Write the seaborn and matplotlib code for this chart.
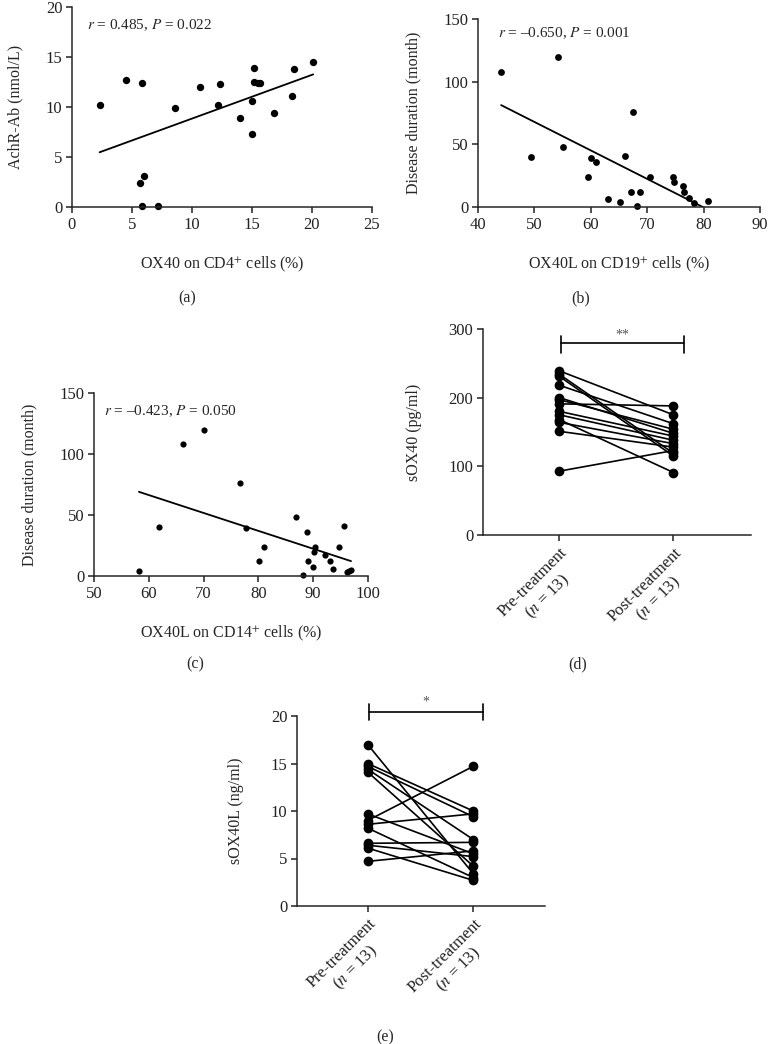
import numpy as np
import pandas as pd
import seaborn as sns
import matplotlib.pyplot as plt

# ---- data ----
# (a) OX40 on CD4+ vs AchR-Ab
a_x = [2.3, 4.5, 5.8, 5.7, 6.0, 5.8, 7.2, 8.6, 10.7, 12.2, 12.3, 14.0, 15.0, 15.0,
       15.2, 15.2, 15.5, 15.7, 16.8, 18.3, 18.5, 20.1]
a_y = [10.2, 12.7, 12.4, 2.4, 3.1, 0.1, 0.1, 9.9, 12.0, 10.2, 12.3, 8.9, 10.6, 7.3,
       13.9, 12.5, 12.4, 12.4, 9.4, 11.1, 13.8, 14.5]

# (b) OX40L on CD19+ vs disease duration
b_x = [44.1, 49.4, 54.2, 55.0, 59.5, 60.1, 60.9, 63.0, 65.2, 66.1, 67.1, 67.4, 68.2,
       68.8, 70.5, 74.6, 74.7, 76.4, 76.5, 77.4, 78.3, 80.7]
b_y = [108, 40, 120, 48, 24, 39, 36, 6, 4, 41, 12, 76, 1, 12, 24, 24, 20, 17, 12,
       7, 3, 5]

# (c) OX40L on CD14+ vs disease duration
c_x = [58.2, 61.9, 66.2, 70.1, 76.6, 77.7, 80.1, 81.1, 86.9, 88.9, 88.2, 89.1, 90.0,
       90.1, 90.4, 92.2, 93.1, 93.7, 94.7, 95.6, 96.2, 96.5, 96.9]
c_y = [4, 40, 108, 120, 76, 39, 12, 24, 48, 36, 1, 12, 7, 20, 24, 17, 12, 6, 24,
       41, 3, 4, 5]

# (d) sOX40 paired pre/post
d_pre = [239, 234, 231, 218, 200, 197, 191, 180, 175, 168, 164, 151, 93]
d_post = [175, 119, 115, 162, 148, 154, 188, 144, 138, 91, 133, 128, 123]

# (e) sOX40L paired pre/post
e_pre = [17.0, 15.0, 14.7, 14.4, 14.1, 9.7, 9.0, 8.6, 8.2, 6.6, 6.4, 6.1, 4.7]
e_post = [3.4, 10.0, 9.4, 7.0, 4.2, 5.5, 14.7, 9.7, 3.0, 6.7, 5.2, 2.7, 5.8]

groups = ["Pre-treatment\n($n$ = 13)", "Post-treatment\n($n$ = 13)"]

sns.set_style("ticks")
plt.rcParams["font.family"] = ["Liberation Serif", "DejaVu Serif"]
plt.rcParams["mathtext.fontset"] = "stix"
plt.rcParams["font.size"] = 11
plt.rcParams["axes.linewidth"] = 1.1
plt.rcParams["xtick.major.width"] = 1.1
plt.rcParams["ytick.major.width"] = 1.1
plt.rcParams["xtick.major.size"] = 4
plt.rcParams["ytick.major.size"] = 4
plt.rcParams["xtick.color"] = "#222222"
plt.rcParams["ytick.color"] = "#222222"

W, H = 768, 1044
fig = plt.figure(figsize=(W / 100, H / 100), dpi=100)


def box(l, r, t, b):
    return [l / W, 1 - b / H, (r - l) / W, (b - t) / H]


def style(ax):
    sns.despine(ax=ax)
    ax.tick_params(labelsize=12, pad=3)


def scatter_panel(rect, x, y, xlim, ylim, xstep, ystep, xlabel, ylabel, note, note_pos, dot):
    ax = fig.add_axes(rect)
    sns.regplot(x=x, y=y, ax=ax, ci=None, color="black",
                scatter_kws=dict(s=dot, linewidths=0, clip_on=False, alpha=1),
                line_kws=dict(lw=1.3))
    ax.set_xlim(*xlim)
    ax.set_ylim(*ylim)
    ax.set_xticks(np.arange(xlim[0], xlim[1] + 0.1, xstep))
    ax.set_yticks(np.arange(ylim[0], ylim[1] + 0.1, ystep))
    ax.set_xlabel(xlabel, fontsize=11.5, labelpad=16)
    ax.set_ylabel(ylabel, fontsize=11.5, labelpad=16)
    ax.text(note_pos[0], note_pos[1], note, transform=ax.transAxes,
            fontsize=11, va="center", ha="left")
    style(ax)
    return ax


def paired_panel(rect, pre, post, ylim, ystep, ylabel, bar_y, tick_lo, tick_hi, star, star_y):
    ax = fig.add_axes(rect)
    n = len(pre)
    df = pd.DataFrame({
        "subject": list(range(n)) * 2,
        "pos": [0] * n + [1] * n,
        "value": pre + post,
    })
    sns.lineplot(data=df, x="pos", y="value", units="subject", estimator=None,
                 color="black", lw=1.2, marker="o", markersize=7,
                 markeredgewidth=0, ax=ax, legend=False)
    for line in ax.lines:
        line.set_clip_on(False)
    ax.set_xlim(-0.67, 1.68)
    ax.set_ylim(*ylim)
    ax.set_yticks(np.arange(ylim[0], ylim[1] + 0.1, ystep))
    ax.set_xticks([0, 1])
    ax.set_xticklabels(groups, rotation=45, ha="right", va="top",
                       rotation_mode="anchor", multialignment="center")
    ax.set_xlabel("")
    ax.set_ylabel(ylabel, fontsize=11.5, labelpad=19)
    # significance bracket
    ax.plot([0.01, 1.09], [bar_y, bar_y], color="black", lw=1.2, clip_on=False)
    for xb in (0.01, 1.09):
        ax.plot([xb, xb], [tick_lo, tick_hi], color="black", lw=1.2, clip_on=False)
    ax.text(0.55, star_y, star, ha="center", va="center", fontsize=10, color="#555555")
    style(ax)
    return ax


scatter_panel(box(72, 372, 7, 207), a_x, a_y, (0, 25), (0, 20), 5, 5,
              "OX40 on CD4$^{+}$ cells (%)", "AchR-Ab (nmol/L)",
              "$r$ = 0.485, $P$ = 0.022", (0.05, 0.91), 28)
scatter_panel(box(478, 760, 19, 207), b_x, b_y, (40, 90), (0, 150), 10, 50,
              "OX40L on CD19$^{+}$ cells (%)", "Disease duration (month)",
              "$r$ = \u20130.650, $P$ = 0.001", (0.072, 0.926), 24)
scatter_panel(box(94, 368, 393, 576), c_x, c_y, (50, 100), (0, 150), 10, 50,
              "OX40L on CD14$^{+}$ cells (%)", "Disease duration (month)",
              "$r$ = \u20130.423, $P$ = 0.050", (0.036, 0.90), 20)
paired_panel(box(483, 751, 329, 535), d_pre, d_post, (0, 300), 100, "sOX40 (pg/ml)",
             280, 265, 290, "**", 291)
paired_panel(box(297, 545, 716, 906), e_pre, e_post, (0, 20), 5, "sOX40L (ng/ml)",
             20.4, 19.6, 21.3, "*", 21.5)

for lab, x, y in [("(a)", 187, 298), ("(b)", 581, 298), ("(c)", 195, 664),
                  ("(d)", 578, 664), ("(e)", 385, 1037)]:
    fig.text(x / W, 1 - y / H, lab, ha="center", va="center", fontsize=11.5)

fig.savefig("out.png", dpi=100)
